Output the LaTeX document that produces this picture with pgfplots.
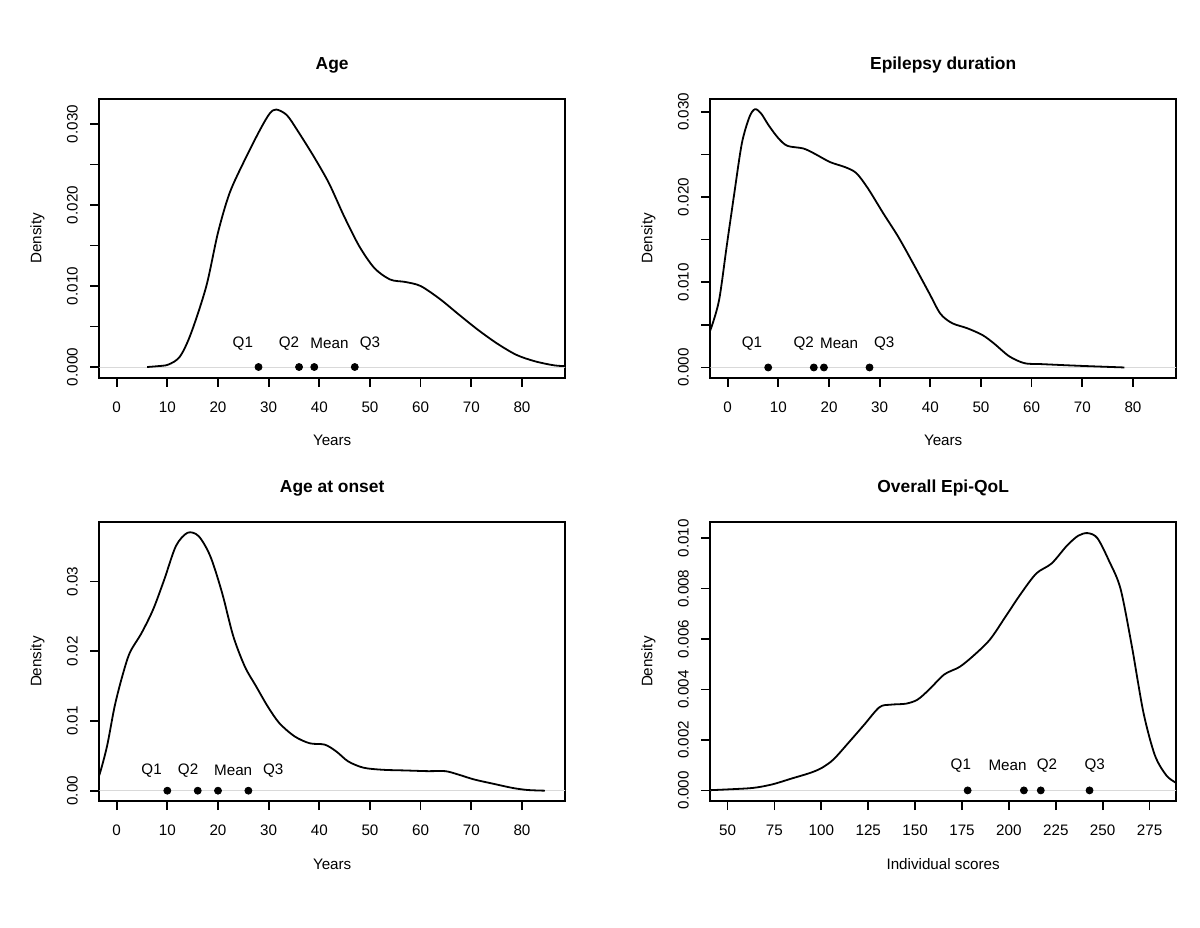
\documentclass[border=0pt]{standalone}
\usepackage{pgfplots}
\pgfplotsset{compat=1.18}
\usepackage{fontspec}
\setmainfont{Liberation Sans}
\newcommand{\tfont}{\fontsize{7.6}{9}\selectfont}
\newcommand{\hfont}{\fontsize{8.7}{10}\selectfont\bfseries}
\pgfplotsset{
  rpanel/.style={
    scale only axis, width=232.85pt, height=139.35pt, anchor=south west,
    axis line style={line width=0.85pt},
    every tick/.style={black, line width=0.85pt},
    tick align=outside, major tick length=4.5pt,
    xtick pos=bottom, ytick pos=left,
    scaled y ticks=false, scaled x ticks=false,
    ticklabel style={font=\tfont},
    xticklabel shift=4pt, yticklabel shift=2.75pt,
    yticklabel style={rotate=90, anchor=south},
    title style={font=\hfont, at={(axis description cs:0.5,1.079)}, anchor=center},
    xlabel style={font=\tfont, at={(axis description cs:0.5,-0.226)}, anchor=center},
    ylabel style={font=\tfont, at={(axis description cs:-0.133,0.5)}, anchor=center},
    ylabel={Density},
  },
  curve/.style={black, line width=0.9pt, smooth, no marks},
  pts/.style={only marks, mark=*, mark size=1.75pt, black},
  zl/.style={gray!30, line width=0.3pt, no marks},
}
\begin{document}
\begin{tikzpicture}
\path[use as bounding box] (0pt,0pt) rectangle (600pt,463.5pt);
% Panel 1
\begin{axis}[rpanel, at={(49.65pt,274.65pt)},
  title={Age}, xlabel={Years},
  xmin=-3.43, xmax=88.5, ymin=-0.00132, ymax=0.0331,
  xtick={0,10,20,30,40,50,60,70,80}, xticklabels={0,10,20,30,40,50,60,70,80},
  ytick={0,0.005,0.01,0.015,0.02,0.025,0.03}, yticklabels={0.000,,0.010,,0.020,,0.030}]
\addplot[zl] coordinates {(-10,0) (100,0)};
\addplot[curve] coordinates {
(6,0) (8,0.0001) (10.2,0.0003) (12.5,0.0013) (14.7,0.0042) (17.7,0.0100) (20,0.0166)
(22.3,0.0215) (25.3,0.0256) (28.3,0.0293) (30.2,0.0313) (31.5,0.0318) (33.6,0.0311) (35.8,0.0291)
(38.9,0.0260) (41.9,0.0227) (44.9,0.0186) (47.9,0.0149) (50.9,0.0122) (54,0.0108)
(57,0.0105) (60,0.0100) (63.8,0.0084) (67.5,0.0065) (71.3,0.0046) (75.1,0.0029)
(78.9,0.0015) (82.6,0.0007) (86.4,0.0002) (89,0.0001)};
\addplot[pts] coordinates {(28,0) (36,0) (39,0) (47,0)};
\node[font=\tfont] at (axis cs:24.9,0.0029) {Q1};
\node[font=\tfont] at (axis cs:34,0.0029) {Q2};
\node[font=\tfont] at (axis cs:42,0.0029) {Mean};
\node[font=\tfont] at (axis cs:50,0.0029) {Q3};
\end{axis}
% Panel 2
\begin{axis}[rpanel, at={(355.15pt,274.65pt)},
  title={Epilepsy duration}, xlabel={Years},
  xmin=-3.43, xmax=88.5, ymin=-0.0012, ymax=0.0315,
  xtick={0,10,20,30,40,50,60,70,80}, xticklabels={0,10,20,30,40,50,60,70,80},
  ytick={0,0.005,0.01,0.015,0.02,0.025,0.03}, yticklabels={0.000,,0.010,,0.020,,0.030}]
\addplot[zl] coordinates {(-10,0) (100,0)};
\addplot[curve] coordinates {
(-4,0.0040) (-3.4,0.0044) (-1.7,0.0079) (-0.2,0.0142) (1.3,0.0204) (2.8,0.0263) (4.3,0.0294)
(5.4,0.0303) (6.6,0.0298) (8.1,0.0284) (10,0.0269) (11.8,0.0260) (14.9,0.0257)
(17.1,0.0251) (20.2,0.0241) (23.2,0.0235) (25.4,0.0228) (27.7,0.0210) (30.7,0.0181)
(33.7,0.0153) (36.8,0.0120) (39.8,0.0087) (42,0.0063) (44.3,0.0052) (47.3,0.0046)
(50.3,0.0038) (52.6,0.0028) (55.6,0.0013) (58.6,0.0005) (61.7,0.0004) (69.2,0.0002) (78.3,0.0000)};
\addplot[pts] coordinates {(8,0) (17,0) (19,0) (28,0)};
\node[font=\tfont] at (axis cs:4.8,0.00285) {Q1};
\node[font=\tfont] at (axis cs:15,0.00285) {Q2};
\node[font=\tfont] at (axis cs:22,0.00285) {Mean};
\node[font=\tfont] at (axis cs:30.9,0.00285) {Q3};
\end{axis}
% Panel 3
\begin{axis}[rpanel, at={(49.65pt,63pt)},
  title={Age at onset}, xlabel={Years},
  xmin=-3.43, xmax=88.5, ymin=-0.00148, ymax=0.0385,
  xtick={0,10,20,30,40,50,60,70,80}, xticklabels={0,10,20,30,40,50,60,70,80},
  ytick={0,0.01,0.02,0.03}, yticklabels={0.00,0.01,0.02,0.03}]
\addplot[zl] coordinates {(-10,0) (100,0)};
\addplot[curve] coordinates {
(-4,0.0018) (-3.4,0.0023) (-1.9,0.0064) (-0.4,0.0121) (1.1,0.0164) (2.6,0.0198) (4.9,0.0226)
(7.2,0.0260) (9.4,0.0303) (11.7,0.0351) (14,0.0370) (16.2,0.0365) (18.5,0.0336)
(20.8,0.0284) (23,0.0222) (25.3,0.0178) (27.5,0.0150) (29.8,0.0121) (32.1,0.0097)
(35.1,0.0078) (38.1,0.0068) (41.1,0.0066) (43.4,0.0056) (45.7,0.0042) (48.7,0.0033)
(52.5,0.0030) (57,0.0029) (61.5,0.0028) (64.9,0.0028) (67.5,0.0023) (70.6,0.0016)
(74.3,0.0010) (78.1,0.0004) (81.1,0.0001) (84.5,0.0000)};
\addplot[pts] coordinates {(10,0) (16,0) (20,0) (26,0)};
\node[font=\tfont] at (axis cs:6.9,0.0029) {Q1};
\node[font=\tfont] at (axis cs:14.1,0.0029) {Q2};
\node[font=\tfont] at (axis cs:23,0.0029) {Mean};
\node[font=\tfont] at (axis cs:30.9,0.0029) {Q3};
\end{axis}
% Panel 4
\begin{axis}[rpanel, at={(355.15pt,63pt)},
  title={Overall Epi\hbox{-}QoL}, xlabel={Individual scores},
  xmin=40.8, xmax=289.1, ymin=-0.00042, ymax=0.01063,
  xtick={50,75,100,125,150,175,200,225,250,275}, xticklabels={50,75,100,125,150,175,200,225,250,275},
  ytick={0,0.002,0.004,0.006,0.008,0.01}, yticklabels={0.000,0.002,0.004,0.006,0.008,0.010}]
\addplot[zl] coordinates {(0,0) (300,0)};
\addplot[curve] coordinates {
(35,0.0000) (40.8,0.00001) (50,0.00004) (63.7,0.0001) (73.9,0.00024) (84.1,0.00047)
(94.3,0.0007) (100.4,0.0009) (106.5,0.00123) (114.6,0.0019) (122.8,0.0026) (131,0.0033)
(137.1,0.0034) (145.2,0.00344) (151.3,0.0036) (157.5,0.0040) (165.6,0.0046) (173.8,0.0049)
(182,0.0054) (190.1,0.0060) (198.3,0.0069) (206.4,0.0078) (214.6,0.0086) (222.8,0.0090)
(230.9,0.0097) (237,0.0101) (242.1,0.0102) (247.2,0.0100) (253.4,0.0091) (259.5,0.0080)
(265.6,0.0057) (271.7,0.0031) (277.8,0.0014) (283.9,0.0006) (289.1,0.0003) (292,0.0002)};
\addplot[pts] coordinates {(178,0) (208,0) (217,0) (243,0)};
\node[font=\tfont] at (axis cs:174.4,0.00099) {Q1};
\node[font=\tfont] at (axis cs:199.3,0.00099) {Mean};
\node[font=\tfont] at (axis cs:220.3,0.00099) {Q2};
\node[font=\tfont] at (axis cs:245.8,0.00099) {Q3};
\end{axis}
\end{tikzpicture}
\end{document}
